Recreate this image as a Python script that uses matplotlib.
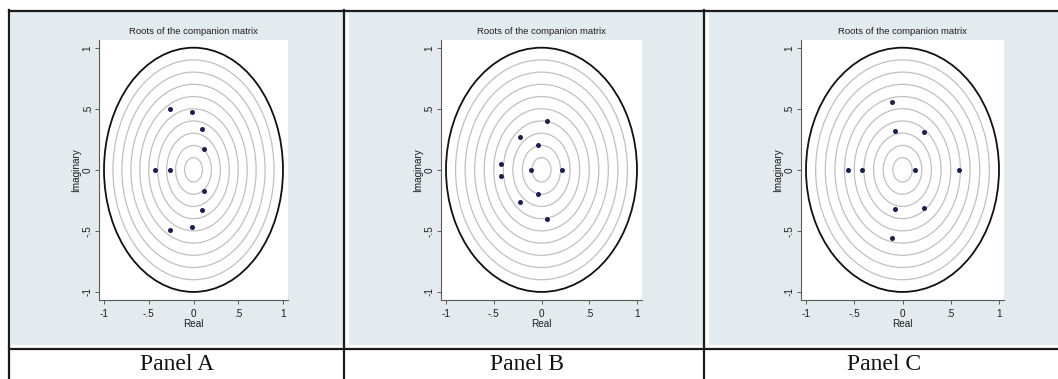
import numpy as np
import matplotlib
matplotlib.use("Agg")
import matplotlib.pyplot as plt
from matplotlib.lines import Line2D
from matplotlib.patches import Rectangle, Circle

# ---------------- data ----------------
panel_labels = ["Panel A", "Panel B", "Panel C"]
chart_title = "Roots of the companion matrix"
x_label = "Real"
y_label = "Imaginary"
tick_values = [-1, -0.5, 0, 0.5, 1]
tick_labels = ["-1", "-.5", "0", ".5", "1"]
ring_radii = [0.1, 0.2, 0.3, 0.4, 0.5, 0.6, 0.7, 0.8, 0.9]
unit_radius = 1.0

a_real = [-0.26, -0.26, -0.015, -0.015, 0.097, 0.097, 0.116, 0.116, -0.43, -0.26]
a_imag = [0.495, -0.495, 0.472, -0.472, 0.332, -0.332, 0.170, -0.170, 0.0, 0.0]

b_real = [0.059, 0.059, -0.224, -0.224, -0.035, -0.035, -0.42, -0.42, -0.105, 0.213]
b_imag = [0.40, -0.40, 0.266, -0.266, 0.20, -0.20, 0.047, -0.047, 0.0, 0.0]

c_real = [-0.111, -0.111, -0.073, -0.073, 0.218, 0.218, -0.567, -0.422, 0.125, 0.581]
c_imag = [0.557, -0.557, 0.317, -0.317, 0.312, -0.312, 0.0, 0.0, 0.0, 0.0]

panels = [(a_real, a_imag), (b_real, b_imag), (c_real, c_imag)]

# ---------------- layout (pixels) ----------------
W, H = 1058, 379
fig = plt.figure(figsize=(W / 100, H / 100), dpi=100)
fig.patch.set_facecolor("white")

def fx(px):
    return px / W

def fy(py):
    return 1 - py / H

# x-pixel positions of tick -1 and +1 per panel
tick_px = [(104, 283), (446, 637), (806, 999)]
xpad = 0.056
y_top_px, y_bot_px = 40, 300
ylim = (-1.066, 1.063)

# background boxes per cell
bg_boxes = [(11, 343), (349, 703), (709, 1058)]
for (x0, x1) in bg_boxes:
    fig.add_artist(Rectangle((fx(x0), fy(345)), fx(x1) - fx(x0), fy(11) - fy(345),
                             transform=fig.transFigure, facecolor="#e3ebef",
                             edgecolor="none", zorder=-5))

# table lines
line_kw = dict(transform=fig.transFigure, color="#1a1a1a", linewidth=1.6, zorder=10)
fig.add_artist(Line2D([fx(9), fx(W)], [fy(10.5), fy(10.5)], **line_kw))
fig.add_artist(Line2D([fx(9), fx(W)], [fy(349), fy(349)], **line_kw))
for xv in [9, 344, 704]:
    fig.add_artist(Line2D([fx(xv), fx(xv)], [fy(10), fy(H)], **line_kw))

label_centers = [177, 527, 884]
ylabel_px = [76.5, 418.5, 778.5]

sans = ["Liberation Sans", "DejaVu Sans"]

text_color = "#1e1e1e"
axis_color = "#5a5a5a"

for i, (re, im) in enumerate(panels):
    xm, xp = tick_px[i]
    s = (xp - xm) / 2
    left_px = xm - xpad * s
    right_px = xp + xpad * s
    ax = fig.add_axes([fx(left_px), fy(y_bot_px), fx(right_px) - fx(left_px),
                       fy(y_top_px) - fy(y_bot_px)])
    ax.set_facecolor("white")
    ax.set_xlim(-1 - xpad, 1 + xpad)
    ax.set_ylim(*ylim)

    for r in ring_radii:
        ax.add_patch(Circle((0, 0), r, fill=False, edgecolor="#c0c0c0", linewidth=0.9))
    ax.add_patch(Circle((0, 0), unit_radius, fill=False, edgecolor="#111111", linewidth=1.3))

    ax.plot(re, im, linestyle="none", marker="o", markersize=3.6,
            color="#1a2150", markeredgewidth=0)

    for sp in ["top", "right"]:
        ax.spines[sp].set_visible(False)
    for sp in ["left", "bottom"]:
        ax.spines[sp].set_color(axis_color)
        ax.spines[sp].set_linewidth(0.8)

    ax.set_xticks(tick_values)
    ax.set_xticklabels(tick_labels, family=sans, fontsize=7.2, color=text_color)
    ax.set_yticks(tick_values)
    ax.set_yticklabels(tick_labels, family=sans, fontsize=7.2, color=text_color,
                       rotation=90, va="center")
    ax.tick_params(axis="x", direction="out", length=3, width=0.7,
                   color=axis_color, pad=3.5)
    ax.tick_params(axis="y", direction="out", length=3, width=0.7,
                   color=axis_color, pad=1.5)

    ax.set_xlabel(x_label, family=sans, fontsize=7.2, color=text_color, labelpad=0)
    ax.set_ylabel(y_label, family=sans, fontsize=7.2, color=text_color)
    ax.yaxis.set_label_coords((ylabel_px[i] - left_px) / (right_px - left_px), 0.5)
    ax.yaxis.label.set_va("center")
    ax.set_title(chart_title, family=sans, fontsize=6.8, color=text_color, pad=4)

    fig.text(fx(label_centers[i]), fy(364), panel_labels[i], family="Liberation Serif",
             fontsize=17, color="#111111", ha="center", va="center")

fig.savefig("out.png", dpi=100, facecolor="white")
